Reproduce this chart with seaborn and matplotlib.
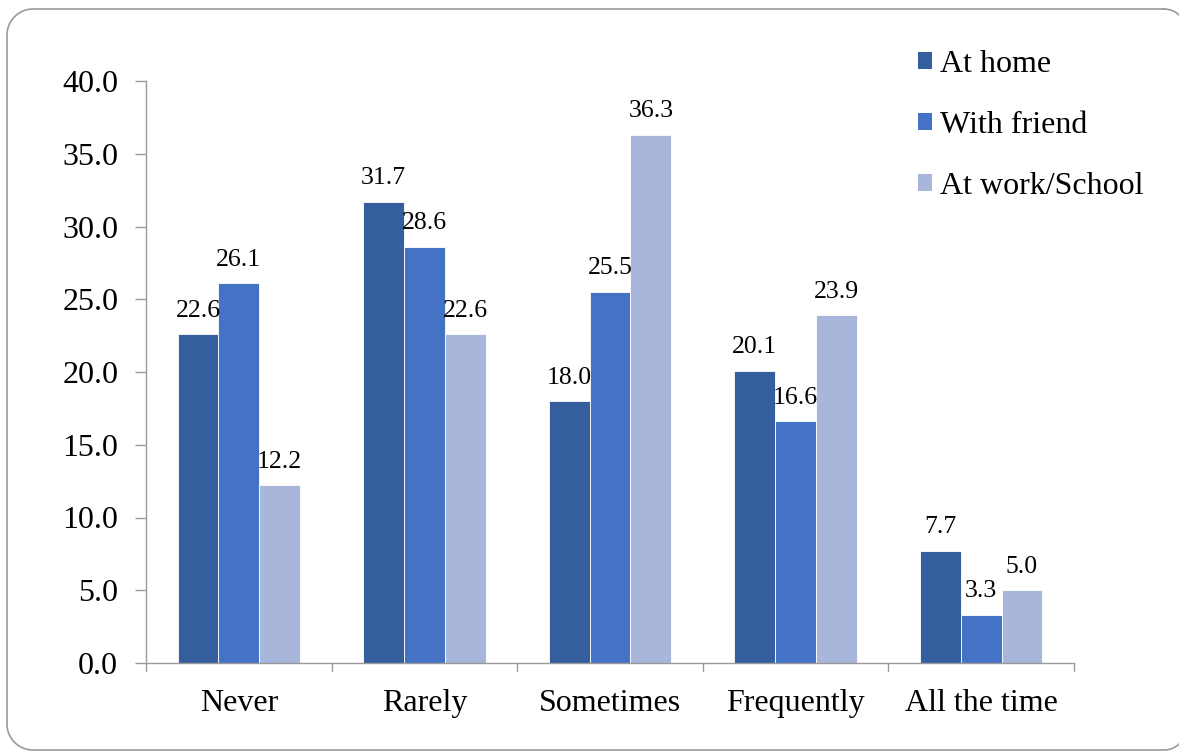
import matplotlib
matplotlib.use("Agg")
import matplotlib.pyplot as plt
import seaborn as sns
import pandas as pd
import numpy as np
from matplotlib.patches import Patch

categories = ["Never", "Rarely", "Sometimes", "Frequently", "All the time"]
at_home = [22.6, 31.7, 18.0, 20.1, 7.7]
with_friend = [26.1, 28.6, 25.5, 16.6, 3.3]
at_work_school = [12.2, 22.6, 36.3, 23.9, 5.0]
series_names = ["At home", "With friend", "At work/School"]
colors = ["#355E9F", "#4472C4", "#A8B6DB"]
y_ticks = [0, 5, 10, 15, 20, 25, 30, 35, 40]

df = pd.DataFrame({
    "category": categories * 3,
    "series": [s for s in series_names for _ in categories],
    "value": at_home + with_friend + at_work_school,
})

sns.set_theme(style="white")
plt.rcParams["font.family"] = ["Liberation Serif", "DejaVu Serif"]
plt.rcParams["text.color"] = "black"

W, H = 1179, 754
fig = plt.figure(figsize=(W / 100, H / 100), dpi=100)

# background layer in pixel units (y downwards), holding the rounded frame
bg = fig.add_axes([0, 0, 1, 1], zorder=-1)
bg.set_xlim(0, W)
bg.set_ylim(H, 0)
bg.axis("off")


def corner(cx, cy, r, a0, a1):
    t = np.radians(np.linspace(a0, a1, 30))
    return list(cx + r * np.cos(t)), list(cy - r * np.sin(t))


x0, x1, y0, y1 = 7, 1186, 9, 750
rl, rr = 26, 22
xs, ys = [], []
for cx, cy, r, a0, a1 in [(x1 - rr, y0 + rr, rr, 90, 0),
                          (x1 - rr, y1 - rr, rr, 0, -90),
                          (x0 + rl, y1 - rl, rl, -90, -180),
                          (x0 + rl, y0 + rl, rl, 180, 90)]:
    px, py = corner(cx, cy, r, a0, a1)
    xs += px
    ys += py
xs.append(xs[0])
ys.append(ys[0])
bg.plot(xs, ys, color="#9A9A9A", lw=1.2, clip_on=True)

ax = fig.add_axes([146 / W, 91 / H, 928 / W, 582 / H])
ax.patch.set_alpha(0)

sns.barplot(data=df, x="category", y="value", hue="series", order=categories,
            hue_order=series_names, palette=colors, saturation=1, width=0.66,
            ax=ax, edgecolor="white", linewidth=0.6, legend=False)

for cont in ax.containers:
    ax.bar_label(cont, fmt="%.1f", padding=9, fontsize=18.5, color="black")

ax.set_ylim(0, 40)
ax.set_xlim(-0.5, 4.5)
ax.set_yticks(y_ticks)
ax.set_yticklabels([f"{v:.1f}" for v in y_ticks], fontsize=23, color="black")
ax.set_xticks(range(len(categories)))
ax.set_xticklabels(categories, fontsize=23, color="black")
ax.tick_params(axis="x", length=0, pad=19)
ax.tick_params(axis="y", length=8, width=1, color="#9A9A9A", pad=12, left=True)
ax.set_xlabel("")
ax.set_ylabel("")

# category boundary ticks on the x axis
for b in [x - 0.5 for x in range(len(categories) + 1)]:
    ax.plot([b, b], [0, -0.014], transform=ax.get_xaxis_transform(),
            color="#9A9A9A", lw=1, clip_on=False)

for side in ["top", "right"]:
    ax.spines[side].set_visible(False)
for side in ["left", "bottom"]:
    ax.spines[side].set_color("#9A9A9A")
    ax.spines[side].set_linewidth(1)

handles = [Patch(facecolor=c, edgecolor="none") for c in colors]
fig.legend(handles, series_names, loc="upper left",
           bbox_to_anchor=(918 / W, 1 - 50 / H), frameon=False, fontsize=23,
           handlelength=0.45, handleheight=0.45, handletextpad=0.25,
           labelspacing=1.0, borderaxespad=0, borderpad=0, labelcolor="black")

fig.savefig("out.png", dpi=100, facecolor="white")
